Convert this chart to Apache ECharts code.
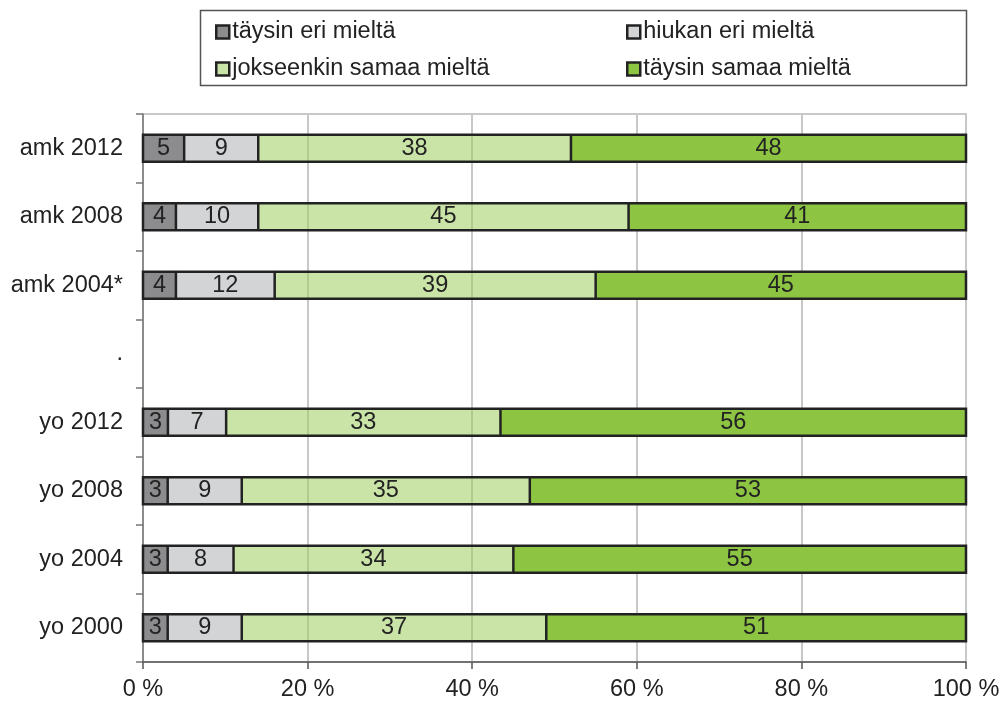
<!DOCTYPE html>
<html>
<head>
<meta charset="utf-8">
<script src="https://cdn.jsdelivr.net/npm/echarts@6/dist/echarts.min.js"></script>
<style>
  html, body { margin: 0; padding: 0; background: #fff; }
  #chart { width: 1003px; height: 703px; }
</style>
</head>
<body>
<div id="chart"></div>
<script>
// categories listed from top to bottom
var categories = ['amk 2012', 'amk 2008', 'amk 2004*', '.', 'yo 2012', 'yo 2008', 'yo 2004', 'yo 2000'];
var seriesNames = ['täysin eri mieltä', 'hiukan eri mieltä', 'jokseenkin samaa mieltä', 'täysin samaa mieltä'];
var taysinEri   = [5, 4, 4, null, 3, 3, 3, 3];
var hiukanEri   = [9, 10, 12, null, 7, 9, 8, 9];
var jokseenkin  = [38, 45, 39, null, 33, 35, 34, 37];
var taysinSamaa = [48, 41, 45, null, 56, 53, 55, 51];
var xTicks = [0, 20, 40, 60, 80, 100];

var colors = ['#8c8c8e', '#d3d4d6', 'rgba(158,206,96,0.55)', '#8dc543'];
var raw = [taysinEri, hiukanEri, jokseenkin, taysinSamaa];
var BAR_H = 27;
var FS = 23.5;

// each bar is drawn as share of its row total (rows add to 99..100)
var totals = categories.map(function (c, i) {
  var s = 0;
  raw.forEach(function (arr) { if (arr[i] != null) s += arr[i]; });
  return s;
});

var font = '"Liberation Sans", Arial, sans-serif';

var series = raw.map(function (arr, k) {
  return {
    name: seriesNames[k],
    type: 'bar',
    stack: 'all',
    barWidth: BAR_H,
    itemStyle: { color: colors[k], borderColor: '#222', borderWidth: 0 },
    label: {
      show: true,
      position: 'inside',
      fontFamily: font,
      fontSize: FS,
      color: '#222',
      formatter: function (p) { return arr[p.dataIndex]; }
    },
    data: arr.map(function (v, i) { return v == null ? '-' : v / totals[i] * 100; })
  };
});

// outlines of the stacked bars: outer box plus lines between segments
var outlineData = [];
categories.forEach(function (c, i) {
  if (totals[i] === 0) return;
  var acc = 0, row = [i];
  raw.forEach(function (arr) { acc += arr[i]; row.push(acc / totals[i] * 100); });
  outlineData.push(row);
});

series.push({
  type: 'custom',
  name: 'outline',
  z: 5,
  silent: true,
  renderItem: function (params, api) {
    var cat = api.value(0);
    var children = [];
    var p0 = api.coord([0, cat]);
    var p1 = api.coord([api.value(4), cat]);
    children.push({
      type: 'rect',
      shape: { x: p0[0], y: p0[1] - BAR_H / 2, width: p1[0] - p0[0], height: BAR_H },
      style: { fill: 'none', stroke: '#222', lineWidth: 2.5 }
    });
    for (var k = 1; k <= 3; k++) {
      var p = api.coord([api.value(k), cat]);
      children.push({
        type: 'line',
        shape: { x1: p[0], y1: p[1] - BAR_H / 2, x2: p[0], y2: p[1] + BAR_H / 2 },
        style: { stroke: '#222', lineWidth: 2.5 }
      });
    }
    return { type: 'group', children: children };
  },
  encode: { x: [1, 2, 3, 4], y: 0 },
  data: outlineData
});

var legendBase = {
  top: 15, orient: 'vertical', itemGap: 13,
  icon: 'rect', itemWidth: 13, itemHeight: 13,
  itemStyle: { borderColor: '#222', borderWidth: 2.5 },
  textStyle: { fontFamily: font, fontSize: FS, lineHeight: 24, color: '#222', padding: [0, 0, 0, -2] }
};

var myChart = echarts.init(document.getElementById('chart'));
var option = {
  animation: false,
  textStyle: { fontFamily: font },
  grid: {
    left: 143, right: 37, top: 114, bottom: 41,
    show: true, borderColor: '#c8c8c8', borderWidth: 2
  },
  graphic: [{
    type: 'rect',
    left: 198, top: 8,
    shape: { width: 766, height: 75 },
    style: { fill: 'none', stroke: '#555', lineWidth: 1.5 }
  }],
  legend: [
    Object.assign({ left: 210, data: [seriesNames[0], seriesNames[2]] }, legendBase),
    Object.assign({ left: 621, data: [seriesNames[1], seriesNames[3]] }, legendBase)
  ],
  xAxis: {
    type: 'value',
    min: xTicks[0], max: xTicks[xTicks.length - 1], interval: 20,
    axisLine: { show: true, lineStyle: { color: '#555', width: 1.5 } },
    axisTick: { show: true, length: 7, lineStyle: { color: '#555', width: 1.5 } },
    axisLabel: { fontFamily: font, fontSize: FS, color: '#222', margin: 16, formatter: '{value} %' },
    splitLine: { show: true, lineStyle: { color: '#c8c8c8', width: 2 } }
  },
  yAxis: {
    type: 'category',
    inverse: true,
    data: categories,
    axisLine: { show: true, lineStyle: { color: '#777', width: 1.5 } },
    axisTick: { show: true, length: 7, lineStyle: { color: '#777', width: 1.5 } },
    axisLabel: { fontFamily: font, fontSize: FS, color: '#222', margin: 20 }
  },
  series: series
};
myChart.setOption(option);
</script>
</body>
</html>
